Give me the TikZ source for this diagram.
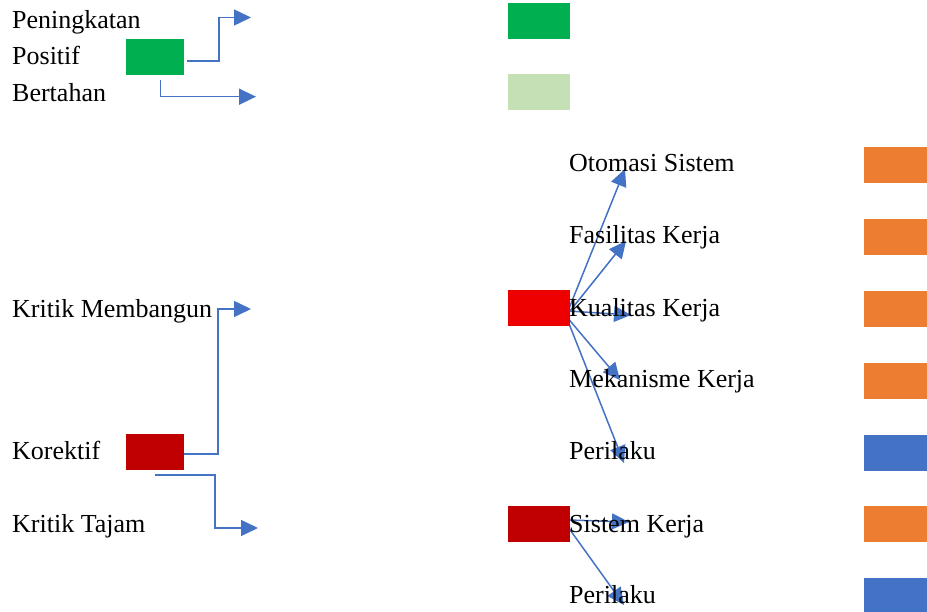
\documentclass[tikz,border=0pt]{standalone}
\usepackage{fontspec}
\setmainfont{Liberation Serif}
\usetikzlibrary{arrows.meta}
\definecolor{kgreen}{HTML}{00B050}
\definecolor{klight}{HTML}{C5E0B4}
\definecolor{kred}{HTML}{EE0000}
\definecolor{kdark}{HTML}{C00000}
\definecolor{korange}{HTML}{ED7D31}
\definecolor{kblue}{HTML}{4472C4}
\tikzset{
  lbl/.style={anchor=base west, inner sep=0pt, font=\fontsize{26}{30}\selectfont},
  swatch/.style={fill=#1, draw=none, inner sep=0pt, minimum width=58pt, minimum height=36pt},
  wideswatch/.style={swatch=#1, minimum width=62pt},
  link/.style={draw=kblue, line width=1.5pt, -{Triangle[length=17pt,width=16pt]}},
}
\begin{document}
\begin{tikzpicture}[x=1pt,y=-1pt]
\useasboundingbox (0,0) rectangle (927,612);

% connector end points
\coordinate (posA) at (187,61);
\coordinate (posB) at (160.5,80);
\coordinate (posT1) at (251,17.5);
\coordinate (posT2) at (256,96.7);
\coordinate (korA) at (184,454);
\coordinate (korB) at (155,475);
\coordinate (korT1) at (251,309);
\coordinate (korT2) at (258,528);
\coordinate (hubA) at (566,316);
\coordinate (hubK) at (568,311);
\coordinate (hubB) at (569,520);
\coordinate (hubC) at (568,527);
\coordinate (tOto) at (625,169);
\coordinate (tFas) at (626,241);
\coordinate (tKua) at (631,315);
\coordinate (tMek) at (620,380);
\coordinate (tPer) at (624,463);
\coordinate (tSis) at (629,522);
\coordinate (tPer2) at (624,605);

% elbow connectors on the left
\draw[link] (posA) -- (219,61) -- (219,17.5) -- (posT1);
\draw[link] (posB) -- (160.5,96.7) -- (posT2);
\draw[link] (korA) -- (218,454) -- (218,309) -- (korT1);
\draw[link] (korB) -- (215,475) -- (215,528) -- (korT2);

% fan of arrows on the right
\draw[link] (hubA) -- (tOto);
\draw[link] (hubA) -- (tFas);
\draw[link] (hubK) -- (tKua);
\draw[link] (hubA) -- (tMek);
\draw[link] (hubA) -- (tPer);
\draw[link] (hubB) -- (tSis);
\draw[link] (hubC) -- (tPer2);

% colour swatches
\node[swatch=kgreen] (bPos) at (155,57) {};
\node[swatch=kdark] (bKor) at (155,452) {};
\node[wideswatch=kgreen] (bTop) at (539,21) {};
\node[wideswatch=klight] (bLight) at (539,92.5) {};
\node[wideswatch=kred] (bRed) at (539,308) {};
\node[wideswatch=kdark] (bDark) at (539,523.5) {};
\node[wideswatch=korange, minimum width=63pt] (r1) at (895.5,165) {};
\node[wideswatch=korange, minimum width=63pt] (r2) at (895.5,237) {};
\node[wideswatch=korange, minimum width=63pt] (r3) at (895.5,309) {};
\node[wideswatch=korange, minimum width=63pt] (r4) at (895.5,381) {};
\node[wideswatch=kblue, minimum width=63pt] (r5) at (895.5,452.5) {};
\node[wideswatch=korange, minimum width=63pt] (r6) at (895.5,524) {};
\node[wideswatch=kblue, minimum width=63pt, minimum height=34pt] (r7) at (895.5,595) {};

% labels on the left
\node[lbl] (tPening) at (12,29) {Peningkatan};
\node[lbl] (tPositif) at (12,65) {Positif};
\node[lbl] (tBertahan) at (12,102) {Bertahan};
\node[lbl] (tKM) at (12,318) {Kritik Membangun};
\node[lbl] (tKor) at (12,460) {Korektif};
\node[lbl] (tKT) at (12,532) {Kritik Tajam};

% labels on the right
\node[lbl] (lOto) at (569,172) {Otomasi Sistem};
\node[lbl] (lFas) at (569,244) {Fasilitas Kerja};
\node[lbl] (lKua) at (569,317) {Kualitas Kerja};
\node[lbl] (lMek) at (569,388) {Mekanisme Kerja};
\node[lbl] (lPer) at (569,460) {Perilaku};
\node[lbl] (lSis) at (569,532) {Sistem Kerja};
\node[lbl] (lPer2) at (569,603) {Perilaku};
\end{tikzpicture}
\end{document}
